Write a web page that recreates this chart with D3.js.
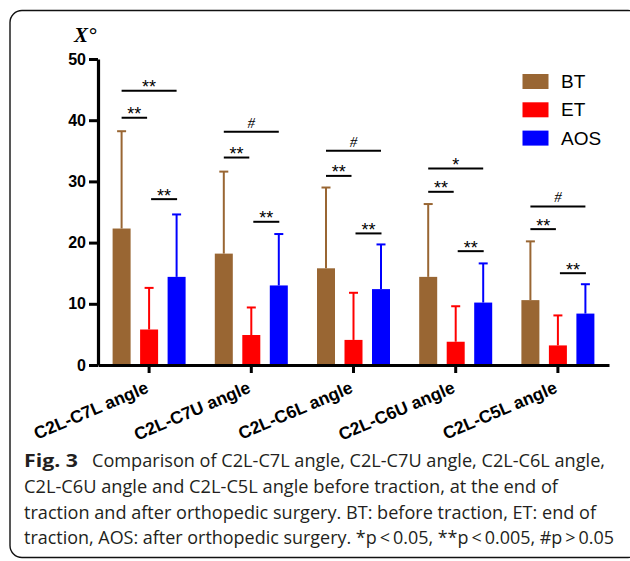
<!DOCTYPE html>
<html>
<head>
<meta charset="utf-8">
<script src="https://cdn.jsdelivr.net/npm/d3@7/dist/d3.min.js"></script>
<style>
  html, body { margin: 0; padding: 0; background: #fff; }
  svg { display: block; }
</style>
</head>
<body>
<svg id="chart" width="630" height="561"></svg>
<script>
// ---- data ----
const categories = ["C2L-C7L angle", "C2L-C7U angle", "C2L-C6L angle", "C2L-C6U angle", "C2L-C5L angle"];
const seriesNames = ["BT", "ET", "AOS"];
const btMean  = [22.3, 18.2, 15.8, 14.4, 10.6];
const btErr   = [38.2, 31.6, 29.0, 26.3, 20.2];
const etMean  = [5.8, 4.9, 4.1, 3.8, 3.2];
const etErr   = [12.6, 9.4, 11.8, 9.6, 8.1];
const aosMean = [14.4, 13.0, 12.4, 10.2, 8.4];
const aosErr  = [24.6, 21.4, 19.7, 16.6, 13.2];
const sigBtEt   = [40.4, 33.9, 30.9, 28.3, 22.2];
const sigBtEtLabel = ["**", "**", "**", "**", "**"];
const sigBtAos  = [44.8, 38.1, 35.0, 32.1, 25.9];
const sigBtAosLabel = ["**", "#", "#", "*", "#"];
const sigEtAos  = [27.1, 23.4, 21.5, 18.6, 15.0];
const sigEtAosLabel = ["**", "**", "**", "**", "**"];
const yTicks = [0, 10, 20, 30, 40, 50];
const yTitle = "X°";
const captionBold = "Fig. 3";
const captionLines = [
  "Comparison of C2L-C7L angle, C2L-C7U angle, C2L-C6L angle,",
  "C2L-C6U angle and C2L-C5L angle before traction, at the end of",
  "traction and after orthopedic surgery. BT: before traction, ET: end of",
  "traction, AOS: after orthopedic surgery. *p\u2009<\u20090.05, **p\u2009<\u20090.005, #p\u2009>\u20090.05"
];
const colors = { BT: "#996633", ET: "#ff0000", AOS: "#0000ff" };

const seriesData = {
  BT: { mean: btMean, err: btErr },
  ET: { mean: etMean, err: etErr },
  AOS: { mean: aosMean, err: aosErr }
};

// ---- layout ----
const svg = d3.select("#chart");
const axisFont = "Liberation Sans, Arial, Helvetica, sans-serif";

// frame
svg.append("rect")
  .attr("x", 10).attr("y", 10.5)
  .attr("width", 630).attr("height", 547)
  .attr("rx", 12).attr("ry", 12)
  .attr("fill", "none").attr("stroke", "#111").attr("stroke-width", 1.4);

const x0 = d3.scaleBand().domain(categories).range([98, 609]).padding(0);
const x1 = d3.scalePoint().domain(seriesNames).range([x0.bandwidth() / 2 - 27.5, x0.bandwidth() / 2 + 27.5]);
const y = d3.scaleLinear().domain([0, 50]).range([365, 59]);
const barW = 18;

const cx = (cat, s) => x0(cat) + x1(s);

// bars + error bars
seriesNames.forEach(s => {
  const d = categories.map((c, i) => ({ c, mean: seriesData[s].mean[i], err: seriesData[s].err[i] }));
  const g = svg.append("g");
  g.selectAll("line.eb").data(d).enter().append("line")
    .attr("x1", e => cx(e.c, s)).attr("x2", e => cx(e.c, s))
    .attr("y1", e => y(e.mean)).attr("y2", e => y(e.err))
    .attr("stroke", colors[s]).attr("stroke-width", 2);
  g.selectAll("line.cap").data(d).enter().append("line")
    .attr("x1", e => cx(e.c, s) - 4.5).attr("x2", e => cx(e.c, s) + 4.5)
    .attr("y1", e => y(e.err)).attr("y2", e => y(e.err))
    .attr("stroke", colors[s]).attr("stroke-width", 2);
  g.selectAll("rect").data(d).enter().append("rect")
    .attr("x", e => cx(e.c, s) - barW / 2)
    .attr("y", e => y(e.mean))
    .attr("width", barW)
    .attr("height", e => y(0) - y(e.mean))
    .attr("fill", colors[s]);
});

// significance markers
function sig(values, labels, sA, sB, offA, offB) {
  const g = svg.append("g");
  categories.forEach((c, i) => {
    const xa = cx(c, sA) + offA, xb = cx(c, sB) + offB;
    const yy = y(values[i]);
    g.append("line").attr("x1", xa).attr("x2", xb).attr("y1", yy).attr("y2", yy)
      .attr("stroke", "#000").attr("stroke-width", 2);
    const lab = labels[i];
    const isHash = lab === "#";
    g.append("text")
      .attr("x", (xa + xb) / 2)
      .attr("y", isHash ? yy - 4 : yy + 2.5)
      .attr("text-anchor", "middle")
      .attr("font-family", isHash ? "Liberation Serif, Times New Roman, serif" : axisFont)
      .attr("font-style", isHash ? "italic" : "normal")
      .attr("font-size", isHash ? 15 : 18)
      .attr("fill", "#000")
      .text(lab);
  });
}
sig(sigBtEt, sigBtEtLabel, "BT", "ET", 0, -2);
sig(sigBtAos, sigBtAosLabel, "BT", "AOS", 0, 0);
sig(sigEtAos, sigEtAosLabel, "ET", "AOS", 2, 0.5);

// y axis
const yAxis = d3.axisLeft(y).tickValues(yTicks).tickSize(9).tickSizeOuter(0).tickPadding(3);
const gy = svg.append("g").attr("transform", "translate(98,0)").call(yAxis);
gy.select(".domain").attr("stroke", "#000").attr("stroke-width", 3.2);
gy.selectAll(".tick line").attr("stroke", "#000").attr("stroke-width", 3);
gy.selectAll(".tick text").attr("font-family", axisFont).attr("font-weight", "bold")
  .attr("font-size", 16).attr("fill", "#000");

// x axis
const xAxis = d3.axisBottom(x0).tickSize(8).tickSizeOuter(0).tickFormat("");
const gx = svg.append("g").attr("transform", "translate(0,365)").call(xAxis);
gx.select(".domain").attr("stroke", "#000").attr("stroke-width", 3.2);
gx.selectAll(".tick line").attr("stroke", "#000").attr("stroke-width", 3);

// x labels rotated
svg.append("g").selectAll("text").data(categories).enter().append("text")
  .attr("transform", c => `translate(${x0(c) + x0.bandwidth() / 2 + 0.5},392) rotate(-23)`)
  .attr("text-anchor", "end")
  .attr("font-family", axisFont).attr("font-weight", "bold").attr("font-size", 17.5)
  .attr("fill", "#000")
  .text(c => c);

// y title
svg.append("text").attr("x", 74).attr("y", 42)
  .attr("font-family", "Liberation Serif, Times New Roman, serif")
  .attr("font-weight", "bold").attr("font-style", "italic").attr("font-size", 21).attr("fill", "#000")
  .text(yTitle);

// legend
const lg = svg.append("g");
seriesNames.forEach((s, i) => {
  lg.append("rect").attr("x", 522.5).attr("y", 74 + i * 28.3).attr("width", 26).attr("height", 15)
    .attr("fill", colors[s]);
  lg.append("text").attr("x", 561).attr("y", 88 + i * 28.3)
    .attr("font-family", axisFont).attr("font-size", 19).attr("fill", "#000").text(s);
});

// caption
const capFont = "Open Sans, Noto Sans, sans-serif";
const capY = [467, 493, 518.5, 544];
svg.append("text").attr("x", 24).attr("y", capY[0])
  .attr("font-family", capFont).attr("font-weight", "bold").attr("font-size", 18)
  .attr("textLength", 54).attr("lengthAdjust", "spacingAndGlyphs")
  .attr("fill", "#231f20").text(captionBold);
const capX = [92, 24, 24, 24];
const capW = [513, 534, 572, 590];
captionLines.forEach((t, i) => {
  svg.append("text").attr("x", capX[i]).attr("y", capY[i])
    .attr("font-family", capFont).attr("font-size", 18)
    .attr("textLength", capW[i]).attr("lengthAdjust", "spacingAndGlyphs")
    .attr("fill", "#231f20").text(t);
});
</script>
</body>
</html>
